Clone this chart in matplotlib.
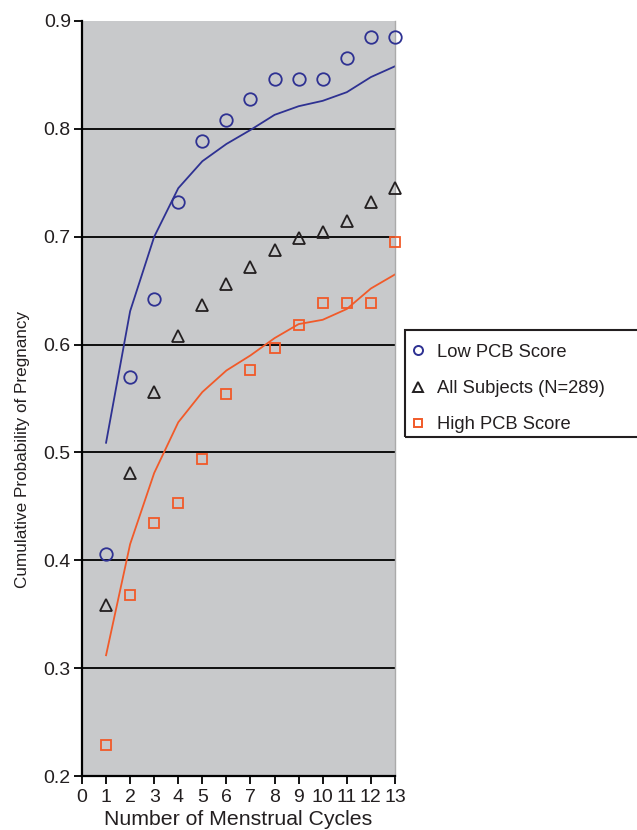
import numpy as np
import matplotlib
matplotlib.use('Agg')
import matplotlib.pyplot as plt
from matplotlib.lines import Line2D
from matplotlib.patches import Rectangle

plt.rcParams['font.family'] = ['Liberation Sans', 'DejaVu Sans']

# Observed cumulative probabilities (markers) and fitted curves (lines)
cycles = np.arange(1, 14)
low_obs = [0.406, 0.570, 0.642, 0.732, 0.789, 0.808, 0.828, 0.846, 0.846, 0.846, 0.866, 0.885, 0.885]
low_fit = [0.509, 0.631, 0.700, 0.745, 0.770, 0.786, 0.799, 0.813, 0.821, 0.826, 0.834, 0.848, 0.858]
all_obs = [0.359, 0.481, 0.556, 0.608, 0.637, 0.656, 0.672, 0.688, 0.699, 0.704, 0.715, 0.732, 0.745]
high_obs = [0.229, 0.368, 0.435, 0.453, 0.494, 0.554, 0.576, 0.597, 0.618, 0.639, 0.639, 0.639, 0.695]
high_fit = [0.312, 0.415, 0.481, 0.528, 0.556, 0.576, 0.590, 0.606, 0.619, 0.623, 0.633, 0.652, 0.665]

blue = '#2e3192'
orange = '#f15a29'
dark = '#231f20'
gray_bg = '#c8c9cb'

fig = plt.figure(figsize=(6.37, 8.3), dpi=100)
ax = fig.add_axes([0.1287, 0.065, 0.4913, 0.9097])
ax.set_facecolor(gray_bg)

ax.set_xlim(0, 13)
ax.set_ylim(0.2, 0.9)

# horizontal gridlines
for yv in np.arange(0.3, 0.85, 0.1):
    ax.axhline(yv, color='black', lw=1.3, zorder=1)

ax.plot(cycles, low_fit, color=blue, lw=1.3, zorder=2)
ax.plot(cycles, high_fit, color=orange, lw=1.3, zorder=2)

ax.plot(cycles, low_obs, 'o', mfc='none', mec=blue, ms=9, mew=1.3, zorder=3, clip_on=False)
ax.plot(cycles, all_obs, '^', mfc='none', mec=dark, ms=9, mew=1.3, zorder=3, clip_on=False)
ax.plot(cycles, high_obs, 's', mfc='none', mec=orange, ms=7.2, mew=1.3, zorder=3, clip_on=False)

ax.set_xticks(range(0, 14))
ax.set_yticks(np.arange(0.2, 0.95, 0.1))
ax.set_yticklabels([f'{v:.1f}' for v in np.arange(0.2, 0.95, 0.1)])
ax.tick_params(axis='both', labelsize=14, direction='out', length=6, width=1.3, color='black', colors='#231f20')
ax.tick_params(axis='x', pad=3)
ax.tick_params(axis='y', pad=2)

ax.spines['top'].set_visible(False)
ax.spines['right'].set_color('#aaaaaa')
ax.spines['right'].set_linewidth(1)
ax.spines['left'].set_linewidth(1.6)
ax.spines['bottom'].set_linewidth(1.6)

ax.set_xlabel('Number of Menstrual Cycles', fontsize=15.3, color=dark)
ax.xaxis.set_label_coords(0.5, -0.045)
ax.set_ylabel('Cumulative Probability of Pregnancy', fontsize=12.3, color=dark)
ax.yaxis.set_label_coords(-0.166, 0.432)

handles = [
    Line2D([], [], marker='o', ls='none', mfc='none', mec=blue, ms=6.5, mew=1.4),
    Line2D([], [], marker='^', ls='none', mfc='none', mec=dark, ms=6.5, mew=1.4),
    Line2D([], [], marker='s', ls='none', mfc='none', mec=orange, ms=5.5, mew=1.4),
]
labels = ['Low PCB Score', 'All Subjects (N=289)', 'High PCB Score']
leg = fig.legend(handles, labels, loc='center left', bbox_to_anchor=(0.642, 0.532),
                 fontsize=13.2, frameon=False, handlelength=1.0, handletextpad=0.54,
                 labelspacing=1.05, borderpad=0, borderaxespad=0, labelcolor=dark)

# legend box runs past the right edge of the figure
fig.patches.append(Rectangle((405 / 637, 1 - 437 / 830), 240 / 637, 107 / 830,
                             transform=fig.transFigure, fill=False, ec=dark, lw=1.5))

fig.savefig('out.png', dpi=100)
